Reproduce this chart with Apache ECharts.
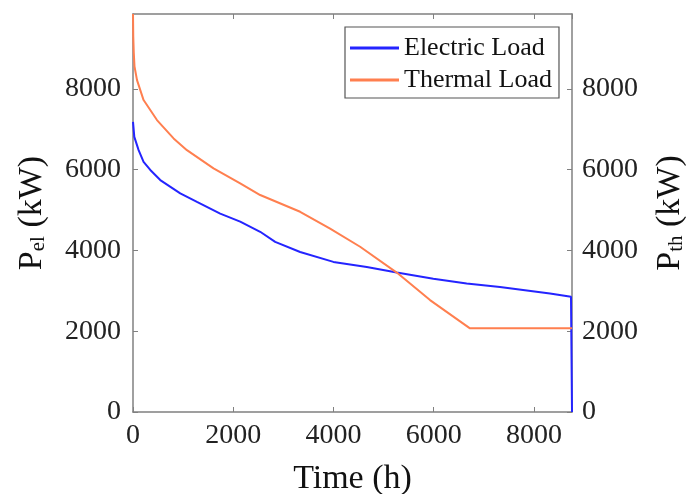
<!DOCTYPE html>
<html>
<head>
<meta charset="utf-8">
<script src="https://cdn.jsdelivr.net/npm/echarts@6/dist/echarts.min.js"></script>
<style>
  html, body { margin: 0; padding: 0; background: #fff; }
  #chart { width: 686px; height: 494px; }
</style>
</head>
<body>
<div id="chart"></div>
<script>
// hours of the year (sorted load duration curve) and loads in kW
const elecHours = [0, 26, 112, 211, 345, 544, 943, 1276, 1740, 2139, 2538, 2837, 3335, 3999, 4665, 5263, 5993, 6658, 7323, 8320, 8740, 8760]
const elecLoad = [7180, 6810, 6480, 6190, 5990, 5740, 5410, 5200, 4910, 4710, 4460, 4210, 3960, 3715, 3590, 3450, 3300, 3180, 3095, 2930, 2850, 0]

const thermHours = [0, 5, 15, 30, 80, 211, 478, 810, 1076, 1607, 2139, 2538, 3335, 3933, 4532, 5263, 5927, 6724, 8760]
const thermLoad = [9850, 9300, 8900, 8550, 8215, 7720, 7225, 6770, 6480, 6030, 5660, 5370, 4955, 4540, 4090, 3450, 2770, 2070, 2070]

const xMax = 8760
const yMax = 9850
const font = 'Liberation Serif'
const axisGray = '#808080'

const toPairs = (xs, ys) => xs.map((x, i) => [x, ys[i]])

const baseAxis = {
  type: 'value',
  splitLine: { show: false },
  axisLine: { show: true, onZero: false, lineStyle: { color: axisGray, width: 1.5 } },
  axisTick: { show: true, inside: true, length: 5, lineStyle: { color: axisGray } },
  axisLabel: {
    fontFamily: font,
    fontSize: 28,
    color: '#222',
    showMaxLabel: false,
    formatter: (v) => String(v)
  }
}

const nameStyle = {
  fontFamily: font,
  fontSize: 34,
  color: '#111',
  rich: {
    p: { fontFamily: font, fontSize: 34, color: '#111' },
    s: { fontFamily: font, fontSize: 21, color: '#111', verticalAlign: 'bottom', padding: [12, 0, 0, 0] }
  }
}

const chart = echarts.init(document.getElementById('chart'))
chart.setOption({
  animation: false,
  grid: { left: 133, right: 114, top: 14, bottom: 82, outerBoundsMode: 'none' },
  legend: {
    left: 345,
    top: 27,
    orient: 'vertical',
    padding: [8, 7, 5, 5],
    itemGap: 6,
    itemWidth: 49,
    itemHeight: 3,
    icon: 'rect',
    borderColor: '#555',
    borderWidth: 1.2,
    textStyle: { fontFamily: font, fontSize: 26, color: '#111', lineHeight: 22 },
    data: ['Electric Load', 'Thermal Load']
  },
  xAxis: [
    {
      ...baseAxis,
      min: 0,
      max: xMax,
      interval: 2000,
      name: 'Time (h)',
      nameLocation: 'middle',
      nameGap: 50,
      nameTextStyle: { fontFamily: font, fontSize: 34, color: '#111' },
      axisLabel: { ...baseAxis.axisLabel, margin: 10 }
    },
    {
      ...baseAxis,
      position: 'top',
      min: 0,
      max: xMax,
      interval: 2000,
      axisLabel: { show: false }
    }
  ],
  yAxis: [
    {
      ...baseAxis,
      min: 0,
      max: yMax,
      interval: 2000,
      name: '{p|P}{s|el}{p| (kW)}',
      nameLocation: 'middle',
      nameRotate: 90,
      nameGap: 84,
      nameTextStyle: nameStyle,
      axisLabel: { ...baseAxis.axisLabel, margin: 12 }
    },
    {
      ...baseAxis,
      position: 'right',
      min: 0,
      max: yMax,
      interval: 2000,
      name: '{p|P}{s|th}{p| (kW)}',
      nameLocation: 'middle',
      nameRotate: 90,
      nameGap: 81,
      nameTextStyle: nameStyle,
      axisLabel: { ...baseAxis.axisLabel, margin: 10 }
    }
  ],
  series: [
    {
      name: 'Electric Load',
      type: 'line',
      xAxisIndex: 0,
      yAxisIndex: 0,
      symbol: 'none',
      color: '#2424ff',
      lineStyle: { width: 2, color: '#2424ff' },
      data: toPairs(elecHours, elecLoad)
    },
    {
      name: 'Thermal Load',
      type: 'line',
      xAxisIndex: 0,
      yAxisIndex: 1,
      symbol: 'none',
      color: '#ff7f4f',
      lineStyle: { width: 2, color: '#ff7f4f' },
      data: toPairs(thermHours, thermLoad)
    }
  ]
})
</script>
</body>
</html>
